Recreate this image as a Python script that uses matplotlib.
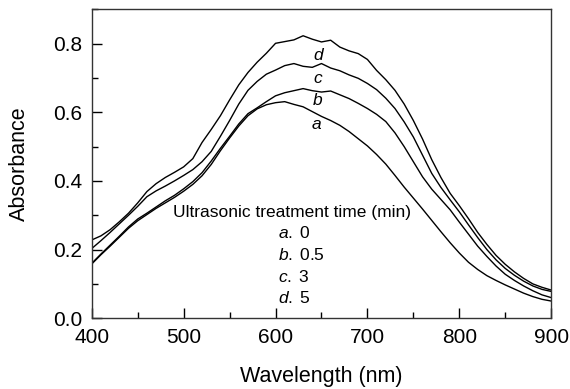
import matplotlib
matplotlib.use("Agg")
import matplotlib.pyplot as plt
from matplotlib.ticker import MultipleLocator

plt.rcParams['font.family'] = ['Liberation Sans', 'DejaVu Sans']
plt.rcParams['mathtext.fontset'] = 'custom'
plt.rcParams['mathtext.rm'] = 'Liberation Sans'
plt.rcParams['mathtext.it'] = 'Liberation Sans:italic'

wavelength = list(range(400, 901, 10))

curve_a = [0.158, 0.185, 0.210, 0.236, 0.262, 0.284, 0.302, 0.320, 0.336, 0.352,
           0.370, 0.390, 0.415, 0.448, 0.488, 0.525, 0.560, 0.590, 0.610, 0.622,
           0.628, 0.631, 0.623, 0.616, 0.602, 0.588, 0.576, 0.562, 0.544, 0.523,
           0.502, 0.477, 0.449, 0.416, 0.382, 0.350, 0.318, 0.285, 0.252, 0.220,
           0.190, 0.163, 0.142, 0.124, 0.110, 0.097, 0.085, 0.073, 0.063, 0.055,
           0.050]
curve_b = [0.160, 0.187, 0.213, 0.239, 0.266, 0.289, 0.306, 0.324, 0.342, 0.358,
           0.377, 0.398, 0.424, 0.458, 0.495, 0.530, 0.566, 0.596, 0.613, 0.631,
           0.648, 0.657, 0.663, 0.669, 0.663, 0.659, 0.662, 0.651, 0.640, 0.626,
           0.611, 0.594, 0.573, 0.540, 0.500, 0.456, 0.412, 0.376, 0.346, 0.316,
           0.280, 0.245, 0.210, 0.180, 0.152, 0.128, 0.110, 0.094, 0.080, 0.068,
           0.060]
curve_c = [0.203, 0.226, 0.250, 0.275, 0.300, 0.326, 0.354, 0.371, 0.385, 0.400,
           0.416, 0.433, 0.456, 0.486, 0.530, 0.576, 0.624, 0.664, 0.690, 0.711,
           0.723, 0.736, 0.742, 0.734, 0.731, 0.742, 0.729, 0.721, 0.709, 0.699,
           0.684, 0.666, 0.641, 0.611, 0.572, 0.528, 0.475, 0.422, 0.381, 0.345,
           0.310, 0.272, 0.235, 0.200, 0.170, 0.145, 0.125, 0.108, 0.094, 0.084,
           0.078]
curve_d = [0.228, 0.240, 0.258, 0.281, 0.306, 0.336, 0.369, 0.392, 0.410, 0.425,
           0.441, 0.465, 0.512, 0.550, 0.590, 0.636, 0.680, 0.716, 0.746, 0.772,
           0.801, 0.806, 0.811, 0.823, 0.813, 0.805, 0.810, 0.790, 0.779, 0.771,
           0.754, 0.722, 0.695, 0.664, 0.624, 0.576, 0.522, 0.462, 0.410, 0.364,
           0.328, 0.290, 0.250, 0.215, 0.183, 0.157, 0.135, 0.116, 0.100, 0.090,
           0.082]

curve_letters = ['a', 'b', 'c', 'd']
curve_label_x = [644, 646, 646, 646]
curve_label_y = [0.565, 0.635, 0.699, 0.765]

legend_title = "Ultrasonic treatment time (min)"
legend_times = ['0', '0.5', '3', '5']

xticks = [400, 500, 600, 700, 800, 900]
yticks = [0.0, 0.2, 0.4, 0.6, 0.8]

fig = plt.figure(figsize=(5.70, 3.89), dpi=100)
ax = fig.add_axes([0.161, 0.182, 0.806, 0.794])

for ys in (curve_a, curve_b, curve_c, curve_d):
    ax.plot(wavelength, ys, color='black', lw=1.0)

for letter, lx, ly in zip(curve_letters, curve_label_x, curve_label_y):
    ax.text(lx, ly, letter, style='italic', fontsize=12.5, ha='center', va='center')

ax.text(618, 0.309, legend_title, fontsize=12.5, ha='center', va='center')
leg_y = [0.248, 0.184, 0.120, 0.059]
for letter, t, yy in zip(curve_letters, legend_times, leg_y):
    ax.text(603, yy, r"$\mathit{" + letter + r".}\;$" + t, fontsize=12.5,
            ha='left', va='center')

ax.set_xlim(400, 900)
ax.set_ylim(0, 0.9)
ax.set_xticks(xticks)
ax.set_yticks(yticks)
ax.set_yticklabels([f"{v:.1f}" for v in yticks])
ax.xaxis.set_minor_locator(MultipleLocator(50))
ax.yaxis.set_minor_locator(MultipleLocator(0.1))
ax.tick_params(which='both', direction='in', top=False, right=False, labelsize=15, width=1)
ax.tick_params(which='major', length=7, pad=7)
ax.tick_params(which='minor', length=4)
for s in ax.spines.values():
    s.set_linewidth(1.0)
    s.set_color('#333333')

ax.set_xlabel("Wavelength (nm)", fontsize=15.5, labelpad=14)
ax.set_ylabel("Absorbance", fontsize=15.5, labelpad=16.5)

fig.savefig("out.png", dpi=100)
